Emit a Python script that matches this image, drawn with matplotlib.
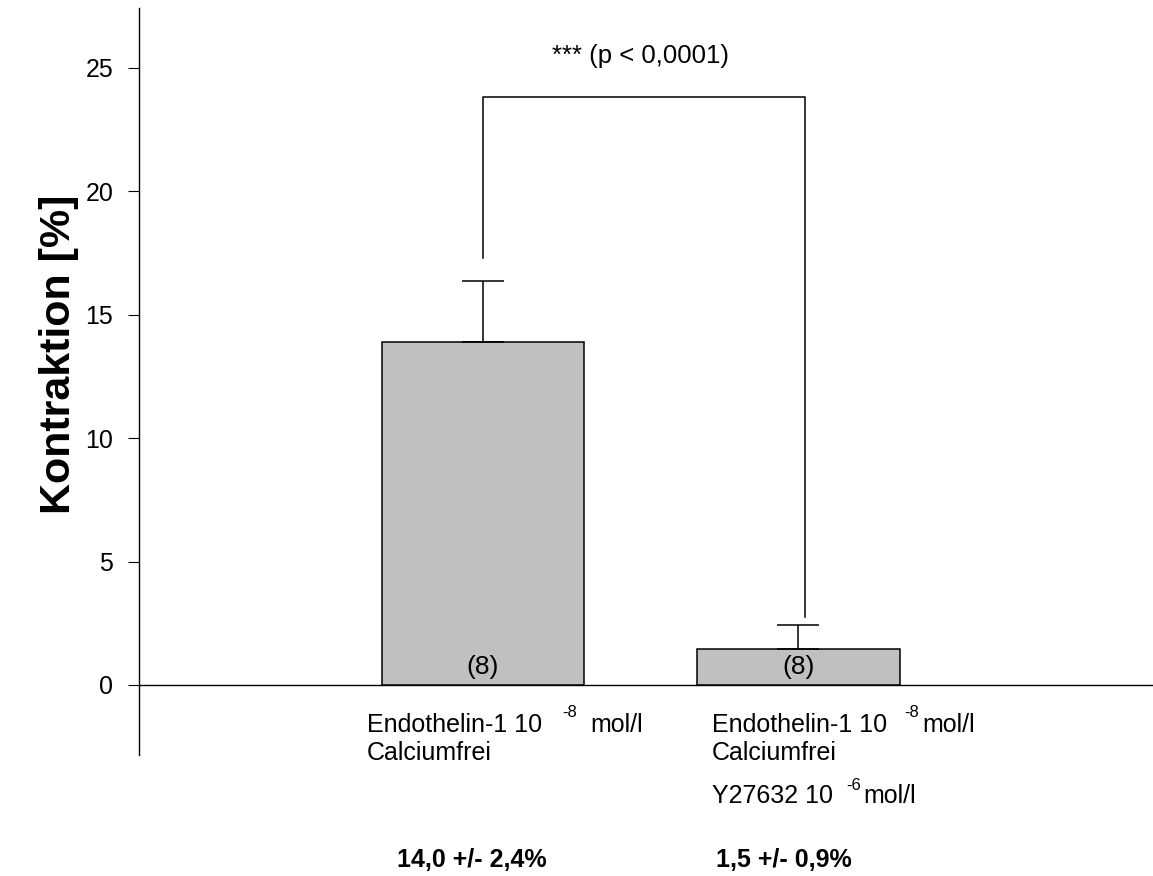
import matplotlib
matplotlib.use("Agg")
import matplotlib.pyplot as plt

plt.rcParams['font.family'] = ['Liberation Sans', 'DejaVu Sans']

# data
positions = [1, 2]
means = [13.9, 1.45]
sem_up = [2.47, 0.98]
n_labels = ["(8)", "(8)"]
summary = ["14,0 +/- 2,4%", "1,5 +/- 0,9%"]

# significance bracket (x, y)
bracket_x = [1, 1, 2.02, 2.02]
bracket_y = [17.3, 23.84, 23.84, 2.75]
sig_text = "*** (p < 0,0001)"

W, H = 1153, 876
fig = plt.figure(figsize=(W / 100, H / 100), dpi=100)


def px(x, y):
    return x / W, 1 - y / H


ax = fig.add_axes([139 / W, 121 / H, 1 - 139 / W, (755 - 8) / H])
ax.set_xlim(-0.0903, 3.1236)
ax.set_ylim(-2.84, 27.43)

ax.bar(positions, means, width=0.643, color="#c0c0c0", edgecolor="black",
       linewidth=1.1, zorder=2)
ax.errorbar(positions, means, yerr=[[0, 0], sem_up], fmt="none",
            ecolor="black", elinewidth=1.1, capsize=15, capthick=1.1, zorder=3)
ax.axhline(0, color="black", lw=1.0, zorder=1)
ax.plot(bracket_x, bracket_y, color="black", lw=1.1, zorder=3)

for x, lab in zip(positions, n_labels):
    ax.text(x, 0.73, lab, ha="center", va="center", fontsize=19)

ax.text(1.5, 25.5, sig_text, ha="center", va="center", fontsize=18.5)

for s in ["top", "right", "bottom"]:
    ax.spines[s].set_visible(False)
ax.spines["left"].set_linewidth(1.0)
ax.set_xticks([])
ax.set_yticks([0, 5, 10, 15, 20, 25])
ax.tick_params(axis="y", direction="out", length=8, width=0.8, pad=10.5,
               labelsize=18)

fig.text(*px(59, 354), "Kontraktion [%]", rotation=90, ha="center",
         va="center", fontsize=31, fontweight="bold")

# category labels
fs = 18
sup = 12
fig.text(*px(367, 732), "Endothelin-1 10", fontsize=fs, va="baseline")
fig.text(*px(562, 717), "-8", fontsize=sup, va="baseline")
fig.text(*px(590, 732), "mol/l", fontsize=fs, va="baseline")
fig.text(*px(367, 760), "Calciumfrei", fontsize=fs, va="baseline")

fig.text(*px(712, 732), "Endothelin-1 10", fontsize=fs, va="baseline")
fig.text(*px(904, 717), "-8", fontsize=sup, va="baseline")
fig.text(*px(922, 732), "mol/l", fontsize=fs, va="baseline")
fig.text(*px(712, 760), "Calciumfrei", fontsize=fs, va="baseline")
fig.text(*px(712, 803), "Y27632 10", fontsize=fs, va="baseline")
fig.text(*px(846, 790), "-6", fontsize=sup, va="baseline")
fig.text(*px(863, 803), "mol/l", fontsize=fs, va="baseline")

fig.text(*px(397, 867), summary[0], fontsize=fs, fontweight="bold",
         va="baseline")
fig.text(*px(716, 867), summary[1], fontsize=fs, fontweight="bold",
         va="baseline")

fig.savefig("out.png", dpi=100)
